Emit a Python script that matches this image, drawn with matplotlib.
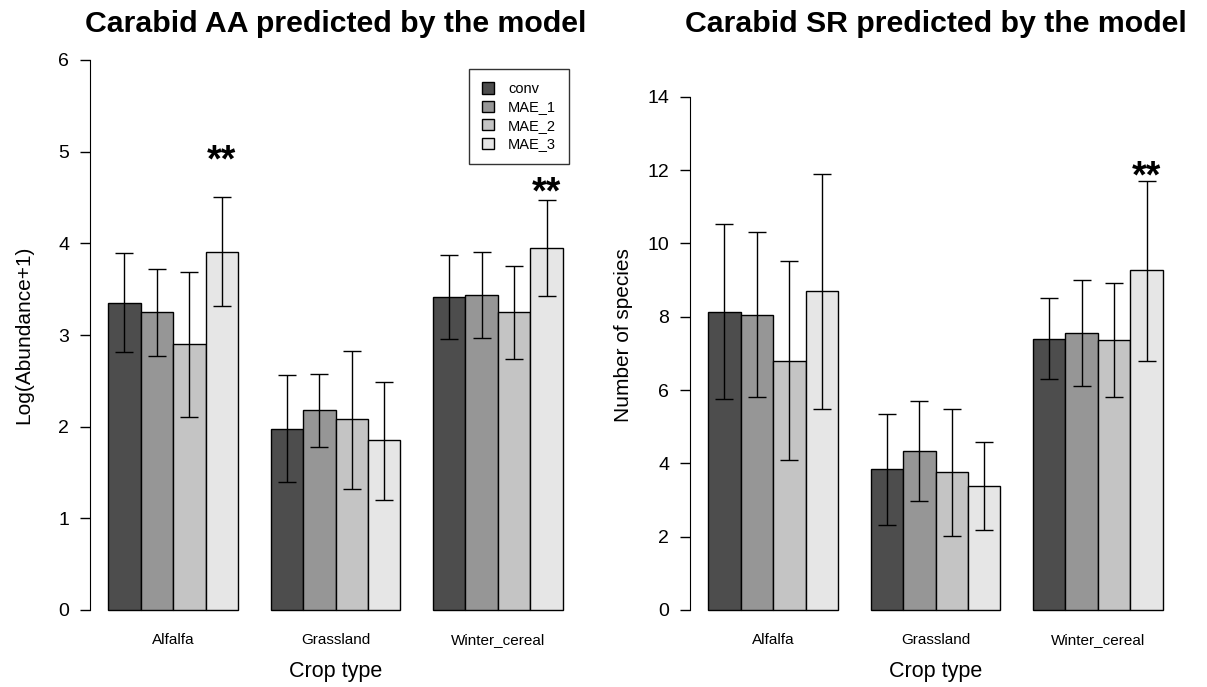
import matplotlib
matplotlib.use("Agg")
import matplotlib.pyplot as plt
import matplotlib.transforms as mtransforms
from matplotlib.patches import Patch

plt.rcParams['font.family'] = ['Liberation Sans', 'DejaVu Sans']

crops = ["Alfalfa", "Grassland", "Winter_cereal"]
series = ["conv", "MAE_1", "MAE_2", "MAE_3"]
colors = ["#4D4D4D", "#969696", "#C4C4C4", "#E6E6E6"]

# Carabid AA (log(abundance+1)): rows = series, cols = crops
aa_mean = [[3.35, 1.98, 3.42],
           [3.25, 2.18, 3.44],
           [2.90, 2.08, 3.25],
           [3.91, 1.85, 3.95]]
aa_low = [[2.81, 1.40, 2.96],
          [2.77, 1.78, 2.97],
          [2.11, 1.32, 2.74],
          [3.32, 1.20, 3.43]]
aa_high = [[3.90, 2.56, 3.87],
           [3.72, 2.57, 3.91],
           [3.69, 2.83, 3.75],
           [4.51, 2.49, 4.47]]

# Carabid SR (number of species)
sr_mean = [[8.14, 3.84, 7.40],
           [8.05, 4.33, 7.55],
           [6.80, 3.76, 7.36],
           [8.70, 3.37, 9.26]]
sr_low = [[5.75, 2.33, 6.29],
          [5.80, 2.96, 6.10],
          [4.08, 2.03, 5.80],
          [5.49, 2.17, 6.80]]
sr_high = [[10.53, 5.35, 8.52],
           [10.32, 5.70, 9.01],
           [9.52, 5.49, 8.92],
           [11.90, 4.58, 11.70]]

# significance markers: (crop index, series index, y)
aa_sig = [(0, 3, 4.96), (2, 3, 4.61)]
sr_sig = [(2, 3, 11.95)]

W, H = 1207, 687
fig = plt.figure(figsize=(W / 100, H / 100), dpi=100)

def make_ax(x0, title, ylabel, mean, low, high, ymax, yticks, sig, legend=False):
    ylo = -0.04 * ymax
    yhi = ymax * 1.04
    ax = fig.add_axes([x0 / W, (H - 632) / H, 491 / W, 594 / H])
    ax.set_xlim(0.44, 15.56)
    ax.set_ylim(ylo, yhi)
    for i in range(len(crops)):
        for j in range(len(series)):
            xc = 1.5 + 5 * i + j
            m = mean[j][i]
            ax.bar(xc, m, width=1.0, color=colors[j], edgecolor="black", linewidth=1.0, zorder=2)
            ax.errorbar(xc, m, yerr=[[m - low[j][i]], [high[j][i] - m]], fmt="none",
                        ecolor="black", elinewidth=1.0, capsize=6.5, capthick=1.0, zorder=3)
    # significance stars (glyph sits high in its box, so anchor on baseline and shift)
    shift = mtransforms.ScaledTranslation(0, -16 / 100, fig.dpi_scale_trans)
    for (i, j, y) in sig:
        ax.text(1.5 + 5 * i + j, y, "**", fontsize=27, fontweight="bold", ha="center",
                va="baseline", transform=ax.transData + shift)
    for s in ["top", "right", "bottom"]:
        ax.spines[s].set_visible(False)
    ax.spines["left"].set_bounds(0, yticks[-1])
    ax.set_yticks(yticks)
    ax.set_yticklabels([str(t) for t in yticks], fontsize=14)
    ax.tick_params(axis="y", length=7, width=1, pad=8)
    ax.set_xticks([3, 8, 13])
    ax.set_xticklabels(crops, fontsize=11)
    ax.tick_params(axis="x", length=0, pad=1)
    ax.set_xlabel("Crop type", fontsize=15.5)
    ax.xaxis.set_label_coords(0.5, (632 - 661) / 594)
    ax.set_ylabel(ylabel, fontsize=15)
    ax.yaxis.set_label_coords(-57 / 491, (632 - 335) / 594)
    ax.set_title(title, fontsize=21.8, fontweight="bold", pad=-1)
    if legend:
        handles = [Patch(facecolor=c, edgecolor="black", label=s) for c, s in zip(colors, series)]
        leg = ax.legend(handles=handles, loc="upper right", bbox_to_anchor=(0.9756, (632 - 69) / 594),
                        borderaxespad=0, fontsize=10.5, fancybox=False, edgecolor="black",
                        handlelength=0.82, handleheight=0.82, handletextpad=0.95,
                        labelspacing=0.3, borderpad=0.9)
        leg.get_frame().set_linewidth(1.0)
    return ax

make_ax(90, "Carabid AA predicted by the model", "Log(Abundance+1)",
        aa_mean, aa_low, aa_high, 6, [0, 1, 2, 3, 4, 5, 6], aa_sig, legend=True)
make_ax(690, "Carabid SR predicted by the model", "Number of species",
        sr_mean, sr_low, sr_high, 15, [0, 2, 4, 6, 8, 10, 12, 14], sr_sig)

fig.savefig("out.png", dpi=100)
